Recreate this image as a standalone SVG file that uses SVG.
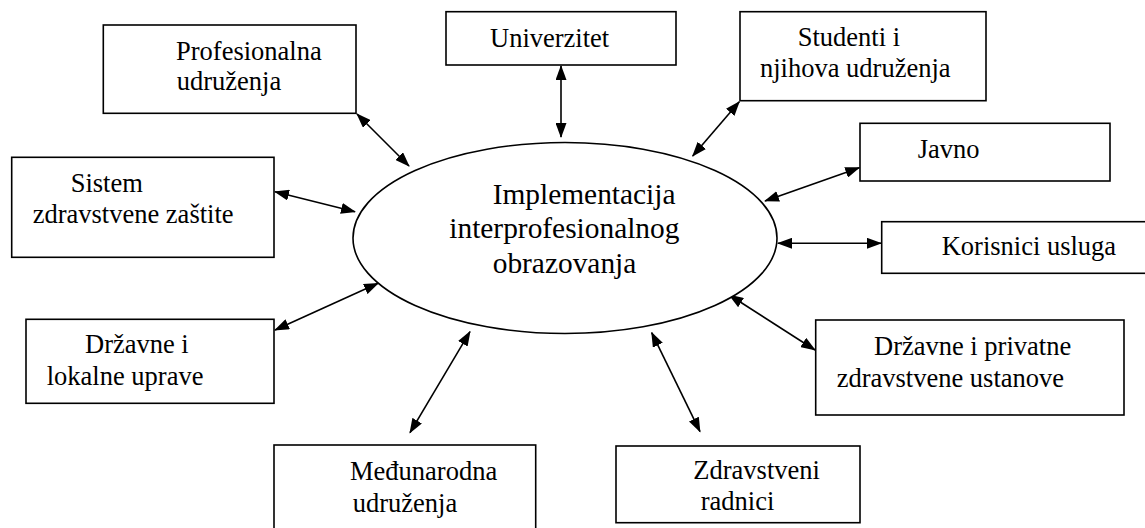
<svg xmlns="http://www.w3.org/2000/svg" width="1145" height="528" viewBox="0 0 1145 528">
<defs>
<style>
.box{fill:#fff;stroke:#000;stroke-width:1.6}
.t{font-family:'Liberation Serif','DejaVu Serif',serif;font-size:26.5px;fill:#000}
.tc{font-family:'Liberation Serif','DejaVu Serif',serif;font-size:29.4px;fill:#000}
.c{stroke:#000;stroke-width:1.6;fill:none;marker-start:url(#ah);marker-end:url(#ah)}
</style>
<marker id="ah" markerUnits="userSpaceOnUse" markerWidth="15" markerHeight="11" refX="14" refY="5.5" orient="auto-start-reverse" viewBox="0 0 15 11">
<path d="M0,0 L15,5.5 L0,11 z" fill="#000"/>
</marker>
</defs>
<rect width="1145" height="528" fill="#fff"/>
<g id="connectors">
<line class="c" x1="561" y1="66" x2="561" y2="137"/>
<line class="c" x1="357" y1="114" x2="409" y2="166"/>
<line class="c" x1="275" y1="191.7" x2="355" y2="211.7"/>
<line class="c" x1="275" y1="330" x2="378" y2="283.3"/>
<line class="c" x1="470" y1="331.7" x2="410" y2="432.7"/>
<line class="c" x1="651.7" y1="332.7" x2="700" y2="431.7"/>
<line class="c" x1="729.3" y1="295" x2="815" y2="350"/>
<line class="c" x1="778" y1="243.3" x2="881" y2="243.3"/>
<line class="c" x1="765" y1="201" x2="859.3" y2="167.7"/>
<line class="c" x1="692.7" y1="156" x2="739.3" y2="101.7"/>
</g>
<g id="center">
<ellipse cx="565" cy="238" rx="212" ry="95.5" fill="#fff" stroke="#000" stroke-width="1.6"/>
<text class="tc" x="492.7" y="204">Implementacija</text>
<text class="tc" x="449.3" y="238.3">interprofesionalnog</text>
<text class="tc" x="492.7" y="272.7">obrazovanja</text>
</g>
<g id="profesionalna">
<rect class="box" x="103.3" y="25" width="252.7" height="88.3"/>
<text class="t" x="176" y="60">Profesionalna</text>
<text class="t" x="176.7" y="90">udruženja</text>
</g>
<g id="univerzitet">
<rect class="box" x="446" y="11.7" width="230" height="53.3"/>
<text class="t" x="490" y="46.7">Univerzitet</text>
</g>
<g id="studenti">
<rect class="box" x="740" y="11.7" width="246" height="89"/>
<text class="t" x="797.7" y="46">Studenti i</text>
<text class="t" x="760" y="76.7">njihova udruženja</text>
</g>
<g id="javno">
<rect class="box" x="860" y="123.3" width="250" height="57.7"/>
<text class="t" x="917.7" y="157.7">Javno</text>
</g>
<g id="korisnici">
<rect class="box" x="881.7" y="221.7" width="270" height="51.6"/>
<text class="t" x="941.7" y="255">Korisnici usluga</text>
</g>
<g id="sistem">
<rect class="box" x="11.7" y="157.3" width="262.3" height="100"/>
<text class="t" x="70.7" y="191.7">Sistem</text>
<text class="t" x="32.7" y="223.3">zdravstvene zaštite</text>
</g>
<g id="drzavne-lokalne">
<rect class="box" x="26" y="319.3" width="248" height="84"/>
<text class="t" x="85" y="353.3">Državne i</text>
<text class="t" x="46.7" y="385">lokalne uprave</text>
</g>
<g id="medjunarodna">
<rect class="box" x="274" y="445" width="261.7" height="95"/>
<text class="t" x="350" y="480">Međunarodna</text>
<text class="t" x="352.7" y="511.7">udruženja</text>
</g>
<g id="zdravstveni">
<rect class="box" x="616" y="446" width="244" height="76.7"/>
<text class="t" x="693.3" y="479.3">Zdravstveni</text>
<text class="t" x="700.7" y="510">radnici</text>
</g>
<g id="drzavne-privatne">
<rect class="box" x="815.7" y="320" width="308.3" height="95"/>
<text class="t" x="874" y="355">Državne i privatne</text>
<text class="t" x="836.7" y="386.7">zdravstvene ustanove</text>
</g>
</svg>
